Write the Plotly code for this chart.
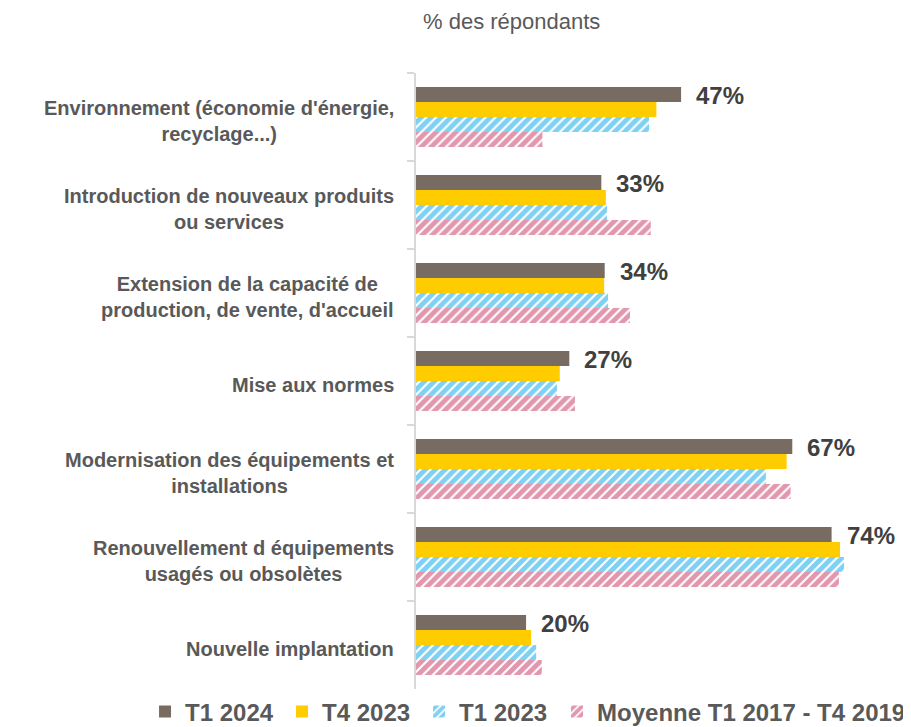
import plotly.graph_objects as go

categories = [
    "Environnement (économie d'énergie,<br>recyclage...)",
    "Introduction de nouveaux produits<br>ou services",
    "Extension de la capacité de<br>production, de vente, d'accueil",
    "Mise aux normes",
    "Modernisation des équipements et<br>installations",
    "Renouvellement d équipements<br>usagés ou obsolètes",
    "Nouvelle implantation",
]

t1_2024 = [47.2, 33.0, 33.6, 27.3, 67.0, 74.0, 19.6]
t4_2023 = [42.8, 33.8, 33.5, 25.6, 66.0, 75.5, 20.5]
t1_2023 = [41.5, 34.0, 34.2, 25.1, 62.3, 76.2, 21.4]
moy_2017_2019 = [22.5, 41.8, 38.1, 28.3, 66.7, 75.3, 22.4]

series_names = ["T1 2024", "T4 2023", "T1 2023", "Moyenne T1 2017 - T4 2019"]

FONT = "Liberation Sans, Arial, sans-serif"
GREY_TXT = "#595959"
AXIS_GREY = "#d9d9d9"

fig = go.Figure()

fig.add_trace(go.Bar(y=categories, x=t1_2024, name=series_names[0], orientation="h",
                     marker=dict(color="#786C62", line_width=0)))
fig.add_trace(go.Bar(y=categories, x=t4_2023, name=series_names[1], orientation="h",
                     marker=dict(color="#FFCC00", line_width=0)))
fig.add_trace(go.Bar(y=categories, x=t1_2023, name=series_names[2], orientation="h",
                     marker=dict(color="white", line_width=0,
                                 pattern=dict(shape="/", fgcolor="#00A2E6", bgcolor="white",
                                              size=7, solidity=0.7))))
# long name goes in a second legend so the first one can use fixed entry widths
fig.add_trace(go.Bar(y=categories, x=moy_2017_2019, name=series_names[3], orientation="h",
                     legend="legend2",
                     marker=dict(color="white", line_width=0,
                                 pattern=dict(shape="/", fgcolor="#C42F5C", bgcolor="white",
                                              size=7, solidity=0.7))))

# value labels next to the T1 2024 bar
for cat, v in zip(categories, t1_2024):
    fig.add_annotation(x=v, y=cat, xref="x", yref="y", text=f"<b>{v:.0f}%</b>",
                       showarrow=False, xanchor="left", yanchor="middle",
                       xshift=13, yshift=22,
                       font=dict(family=FONT, size=24, color="#404040"))

# category labels (centred lines, right aligned block)
for cat in categories:
    fig.add_annotation(x=0, y=cat, xref="paper", yref="y", text=f"<b>{cat}</b>",
                       showarrow=False, xanchor="right", yanchor="middle", align="center",
                       xshift=-20, yshift=-4,
                       font=dict(family=FONT, size=20, color=GREY_TXT))

fig.add_annotation(x=0.197, y=1.083, xref="paper", yref="paper", text="% des répondants",
                   showarrow=False, xanchor="center", yanchor="middle",
                   font=dict(family=FONT, size=22, color=GREY_TXT))

legend_font = dict(family=FONT, size=24, color=GREY_TXT, weight="bold")

# page body adds an 8px offset, so the figure is 8px smaller than the window
fig.update_layout(
    width=903,
    height=719,
    margin=dict(l=408, r=12, t=65, b=38, autoexpand=False),
    plot_bgcolor="white",
    paper_bgcolor="white",
    barmode="group",
    bargap=0.318,
    bargroupgap=0,
    font=dict(family=FONT, color=GREY_TXT),
    legend=dict(
        orientation="h",
        x=-0.561, y=-0.037, xanchor="left", yanchor="middle",
        font=legend_font,
        itemwidth=30,
        entrywidth=92,
        traceorder="normal",
        bgcolor="rgba(0,0,0,0)",
    ),
    legend2=dict(
        orientation="h",
        x=0.292, y=-0.037, xanchor="left", yanchor="middle",
        font=legend_font,
        itemwidth=30,
        bgcolor="rgba(0,0,0,0)",
    ),
    showlegend=True,
)

fig.update_xaxes(range=[0, 86], visible=False, showgrid=False, zeroline=False)
fig.update_yaxes(
    autorange="reversed",
    showline=True, linecolor=AXIS_GREY, linewidth=2,
    ticks="outside", tickson="boundaries", ticklen=7, tickcolor=AXIS_GREY, tickwidth=2,
    showticklabels=False, showgrid=False, zeroline=False,
)

fig.write_html("out.html")
